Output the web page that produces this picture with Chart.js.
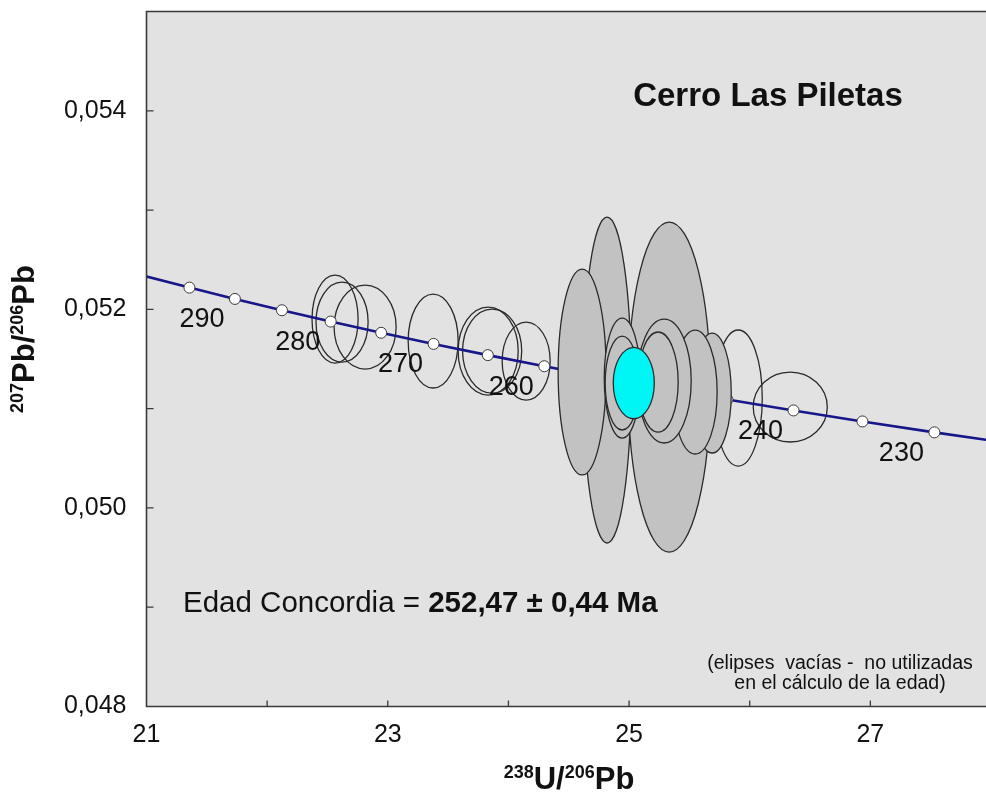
<!DOCTYPE html>
<html lang="es">
<head>
<meta charset="utf-8">
<title>Cerro Las Piletas - Concordia</title>
<script src="https://cdn.jsdelivr.net/npm/chart.js@4.4.1/dist/chart.umd.min.js"></script>
<style>
  html, body { margin: 0; padding: 0; background: #ffffff; overflow: hidden; }
  #wrap { position: absolute; left: 0; top: 0; width: 992px; height: 794px; }
</style>
</head>
<body>
<div id="wrap"><canvas id="chart"></canvas></div>
<script>
// Tera-Wasserburg concordia (238U/206Pb vs 207Pb/206Pb), ages in Ma
const concordiaAges = [300, 295, 290, 285, 280, 275, 270, 265, 260, 255, 250, 245, 240, 235, 230, 225];
const concordiaX = [20.9919, 21.3560, 21.7328, 22.1227, 22.5265, 22.9451, 23.3794, 23.8295,
                    24.2973, 24.7833, 25.2889, 25.8152, 26.3630, 26.9346, 27.5308, 28.1535];
const concordiaY = [0.052334, 0.052219, 0.052105, 0.051991, 0.051877, 0.051764, 0.051652, 0.051539,
                    0.051427, 0.051315, 0.051203, 0.051092, 0.050982, 0.050871, 0.050761, 0.050652];
const markedAges = [295, 290, 285, 280, 275, 270, 265, 260, 255, 250, 245, 240, 235, 230];
const labelledAges = [290, 280, 270, 260, 240, 230];

// Analyses used in the age (filled), listed back to front: centre and half-axes
const usedX  = [24.818, 24.611, 25.333, 25.689, 25.548, 25.291, 25.241, 24.943, 24.943];
const usedY  = [0.051288, 0.051369, 0.051217, 0.051157, 0.051167, 0.051278, 0.051268, 0.051308, 0.051258];
const usedRx = [0.199, 0.199, 0.340, 0.158, 0.182, 0.224, 0.166, 0.149, 0.141];
const usedRy = [0.001641, 0.001037, 0.001662, 0.000604, 0.000624, 0.000624, 0.000504, 0.000604, 0.000473];

// Analyses left out of the age (empty outlines)
const unusedX  = [22.563, 22.621, 22.812, 23.376, 23.832, 23.865, 24.147, 25.905, 26.336];
const unusedY  = [0.051902, 0.051872, 0.051822, 0.051681, 0.051580, 0.051580, 0.051479, 0.051107, 0.051016];
const unusedRx = [0.191, 0.216, 0.257, 0.207, 0.249, 0.245, 0.199, 0.199, 0.307];
const unusedRy = [0.000443, 0.000403, 0.000423, 0.000473, 0.000443, 0.000423, 0.000393, 0.000685, 0.000352];

// Concordia age ellipse (252,47 Ma)
const concordiaAge = 252.47;
const meanX  = [25.039];
const meanY  = [0.051258];
const meanRx = [0.170];
const meanRy = [0.000360];

// Axis ticks
const xTickMin = 21, xTickMax = 28, xTickStep = 1;
const yTickMin = 0.048, yTickMax = 0.055, yTickStep = 0.001;

const FONT = "'Liberation Sans', Arial, Helvetica, sans-serif";

function ellipsePath(chart, cx, cy, rx, ry) {
  const xs = chart.scales.x, ys = chart.scales.y;
  const px = xs.getPixelForValue(cx), py = ys.getPixelForValue(cy);
  const rpx = Math.abs(xs.getPixelForValue(cx + rx) - px);
  const rpy = Math.abs(ys.getPixelForValue(cy + ry) - py);
  const ctx = chart.ctx;
  ctx.beginPath();
  ctx.ellipse(px, py, rpx, rpy, 0, 0, Math.PI * 2);
}

function drawRich(ctx, parts, cx, baseY) {
  // parts: [text, isSuperscript]
  let total = 0;
  const widths = parts.map(([t, sup]) => {
    ctx.font = sup ? `bold 18px ${FONT}` : `bold 31px ${FONT}`;
    const w = ctx.measureText(t).width;
    total += w;
    return w;
  });
  let x = cx - total / 2;
  ctx.textAlign = 'left';
  ctx.textBaseline = 'alphabetic';
  parts.forEach(([t, sup], i) => {
    ctx.font = sup ? `bold 18px ${FONT}` : `bold 31px ${FONT}`;
    ctx.fillText(t, x, sup ? baseY - 11 : baseY);
    x += widths[i];
  });
}

function noScalePadding(s) {
  s.paddingTop = 0;
  s.paddingBottom = 0;
  s.paddingLeft = 0;
  s.paddingRight = 0;
}

const decor = {
  id: 'concordiaDecor',
  beforeDraw(chart) {
    const { ctx, chartArea: a } = chart;
    ctx.save();
    ctx.fillStyle = '#ffffff';
    ctx.fillRect(0, 0, chart.width, chart.height);
    ctx.fillStyle = '#e2e2e2';
    ctx.fillRect(a.left, a.top, a.right - a.left, a.bottom - a.top);
    ctx.restore();
  },
  beforeDatasetsDraw(chart) {
    const { ctx, chartArea: a } = chart;
    ctx.save();
    ctx.beginPath();
    ctx.rect(a.left, a.top, a.right - a.left, a.bottom - a.top);
    ctx.clip();
    ctx.strokeStyle = '#2a2a2a';
    ctx.lineWidth = 1.3;
    for (let i = 0; i < unusedX.length; i++) {
      ellipsePath(chart, unusedX[i], unusedY[i], unusedRx[i], unusedRy[i]);
      ctx.stroke();
    }
    ctx.restore();
  },
  afterDatasetsDraw(chart) {
    const { ctx, chartArea: a } = chart;
    const xs = chart.scales.x, ys = chart.scales.y;
    ctx.save();
    ctx.beginPath();
    ctx.rect(a.left, a.top, a.right - a.left, a.bottom - a.top);
    ctx.clip();

    // age labels along the concordia
    ctx.fillStyle = '#111111';
    ctx.font = `27px ${FONT}`;
    ctx.textAlign = 'center';
    ctx.textBaseline = 'middle';
    labelledAges.forEach(age => {
      const i = concordiaAges.indexOf(age);
      const px = xs.getPixelForValue(concordiaX[i]);
      const py = ys.getPixelForValue(concordiaY[i]);
      ctx.fillText(String(age), px - 33, py + 21);
    });

    // filled ellipses
    ctx.strokeStyle = '#2a2a2a';
    ctx.lineWidth = 1.3;
    for (let i = 0; i < usedX.length; i++) {
      ellipsePath(chart, usedX[i], usedY[i], usedRx[i], usedRy[i]);
      ctx.fillStyle = '#c2c2c2';
      ctx.fill();
      ctx.stroke();
    }
    for (let i = 0; i < meanX.length; i++) {
      ellipsePath(chart, meanX[i], meanY[i], meanRx[i], meanRy[i]);
      ctx.fillStyle = '#00f5f5';
      ctx.fill();
      ctx.stroke();
    }
    ctx.restore();

    // frame (left, top, bottom)
    ctx.save();
    ctx.strokeStyle = '#3a3a3a';
    ctx.lineWidth = 1.6;
    ctx.beginPath();
    ctx.moveTo(a.right + 2, a.top);
    ctx.lineTo(a.left, a.top);
    ctx.lineTo(a.left, a.bottom);
    ctx.lineTo(a.right + 2, a.bottom);
    ctx.stroke();

    // inward tick marks
    ctx.lineWidth = 1.3;
    ctx.beginPath();
    xs.ticks.forEach(t => {
      const px = xs.getPixelForValue(t.value);
      if (px <= a.left + 1) return;
      ctx.moveTo(px, a.bottom);
      ctx.lineTo(px, a.bottom - 6);
    });
    ys.ticks.forEach(t => {
      const py = ys.getPixelForValue(t.value);
      if (py >= a.bottom - 1 || py <= a.top + 1) return;
      ctx.moveTo(a.left, py);
      ctx.lineTo(a.left + 7, py);
    });
    ctx.stroke();

    // annotations
    ctx.fillStyle = '#111111';
    ctx.textAlign = 'center';
    ctx.textBaseline = 'middle';
    ctx.font = `bold 33px ${FONT}`;
    ctx.fillText('Cerro Las Piletas', 768, 97);

    ctx.textAlign = 'left';
    ctx.textBaseline = 'alphabetic';
    ctx.font = `29.5px ${FONT}`;
    const lead = 'Edad Concordia = ';
    ctx.fillText(lead, 183, 612);
    const leadW = ctx.measureText(lead).width;
    ctx.font = `bold 29.5px ${FONT}`;
    ctx.fillText(concordiaAge.toFixed(2).replace('.', ',') + ' \u00b1 0,44 Ma', 183 + leadW, 612);

    ctx.textAlign = 'center';
    ctx.font = `19.5px ${FONT}`;
    ctx.fillText('(elipses  vac\u00edas -  no utilizadas', 840, 669);
    ctx.fillText('en el c\u00e1lculo de la edad)', 840, 689);

    // axis titles
    drawRich(ctx, [['238', true], ['U/', false], ['206', true], ['Pb', false]], 569, 789);
    ctx.translate(34, 339);
    ctx.rotate(-Math.PI / 2);
    drawRich(ctx, [['207', true], ['Pb/', false], ['206', true], ['Pb', false]], 0, 0);
    ctx.restore();
  }
};

new Chart(document.getElementById('chart'), {
  type: 'scatter',
  data: {
    datasets: [{
      label: 'Concordia',
      data: concordiaAges.map((age, i) => ({ x: concordiaX[i], y: concordiaY[i] })),
      showLine: true,
      borderColor: '#17178a',
      borderWidth: 2.6,
      tension: 0,
      pointRadius: concordiaAges.map(age => markedAges.includes(age) ? 5.5 : 0),
      pointBackgroundColor: '#ffffff',
      pointBorderColor: '#3a3a3a',
      pointBorderWidth: 1,
      pointHoverRadius: 5.5
    }]
  },
  options: {
    responsive: true,
    maintainAspectRatio: false,
    animation: false,
    events: [],
    layout: { padding: { top: 11.5, right: 1, left: 0, bottom: 0 } },
    plugins: { legend: { display: false }, tooltip: { enabled: false } },
    scales: {
      x: {
        type: 'linear',
        min: xTickMin, max: xTickMax,
        grid: { display: false, drawTicks: false },
        border: { display: false },
        afterFit: s => { s.height = 87.5; noScalePadding(s); },
        ticks: {
          stepSize: xTickStep,
          autoSkip: false,
          maxRotation: 0,
          padding: 14,
          color: '#111111',
          font: { family: FONT, size: 25 },
          callback: v => (Math.round(v) % 2 === 1 ? String(Math.round(v)) : '')
        }
      },
      y: {
        type: 'linear',
        min: yTickMin, max: yTickMax,
        grid: { display: false, drawTicks: false },
        border: { display: false },
        afterFit: s => { s.width = 146.5; noScalePadding(s); },
        ticks: {
          stepSize: yTickStep,
          autoSkip: false,
          padding: 20,
          color: '#111111',
          font: { family: FONT, size: 25 },
          callback: v => {
            const k = Math.round(v * 1000);
            return (k % 2 === 0 && k <= 54) ? (k / 1000).toFixed(3).replace('.', ',') : '';
          }
        }
      }
    }
  },
  plugins: [decor]
});
</script>
</body>
</html>
